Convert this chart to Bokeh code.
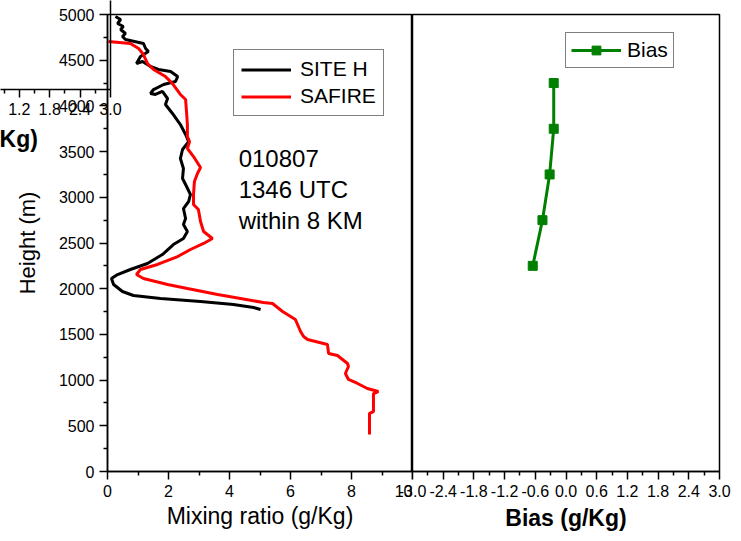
from bokeh.plotting import figure
from bokeh.layouts import row
from bokeh.models import (FixedTicker, CustomJSTickFormatter, Label, Range1d, Title)
from bokeh.embed import file_html
from bokeh.resources import INLINE

# ---------------- data ----------------
site_h_mr = [0.26, 0.43, 0.33, 0.52, 0.43, 0.59, 0.49, 0.59, 1.18, 1.25, 1.34, 1.08, 0.95, 1.15,
             1.41, 1.67, 2.07, 2.30, 2.23, 1.84, 1.51, 1.41, 1.57, 1.80, 1.97, 1.90, 2.13, 2.39,
             2.56, 2.66, 2.46, 2.39, 2.49, 2.46, 2.56, 2.72, 2.66, 2.49, 2.56, 2.49, 2.62, 2.49,
             2.16, 1.80, 1.31, 0.75, 0.33, 0.13, 0.20, 0.49, 0.85, 1.74, 3.05, 4.13, 4.79, 5.02]
site_h_z = [4978, 4945, 4902, 4869, 4836, 4792, 4759, 4726, 4683, 4628, 4595, 4540, 4464, 4486,
            4431, 4398, 4376, 4321, 4267, 4234, 4179, 4136, 4125, 4158, 4081, 4015, 3917, 3796,
            3687, 3610, 3523, 3424, 3315, 3206, 3140, 3031, 2954, 2877, 2768, 2702, 2626, 2549,
            2483, 2374, 2276, 2210, 2155, 2112, 2046, 1969, 1926, 1893, 1860, 1827, 1794, 1772]

safire_mr = [0.03, 0.75, 1.02, 1.18, 1.31, 1.51, 1.90, 2.13, 2.39, 2.56, 2.59, 2.62, 2.62, 2.69,
             2.62, 2.82, 3.05, 2.95, 2.85, 2.82, 2.82, 2.98, 3.05, 3.15, 3.44, 3.15, 2.72, 2.30,
             1.64, 1.08, 0.95, 1.18, 1.97, 2.62, 3.61, 4.36, 5.11, 5.41, 5.74, 6.16, 6.33, 6.43,
             6.56, 7.21, 7.25, 7.54, 7.87, 7.90, 7.80, 7.90, 8.20, 8.52, 8.88, 8.72, 8.72, 8.59,
             8.59]
safire_z = [4705, 4683, 4628, 4562, 4464, 4398, 4321, 4245, 4125, 4070, 3939, 3796, 3665, 3610,
            3534, 3446, 3326, 3260, 3173, 3031, 2921, 2866, 2735, 2626, 2549, 2495, 2429, 2352,
            2265, 2210, 2155, 2112, 2046, 2002, 1937, 1893, 1849, 1838, 1751, 1663, 1532, 1477,
            1444, 1389, 1291, 1269, 1182, 1149, 1072, 1007, 963, 908, 875, 853, 656, 635,
            405]

bias_z = [2250, 2750, 3250, 3750, 4250]
bias_val = [-0.65, -0.46, -0.32, -0.24, -0.24]

height_ticks = list(range(0, 5001, 500))
height_minor = list(range(250, 5000, 500))
mr_ticks = [0, 2, 4, 6, 8, 10]
mr_minor = [1, 3, 5, 7, 9]
bias_ticks = [-3.0, -2.4, -1.8, -1.2, -0.6, 0.0, 0.6, 1.2, 1.8, 2.4, 3.0]
bias_minor = [-2.7, -2.1, -1.5, -0.9, -0.3, 0.3, 0.9, 1.5, 2.1, 2.7]
annot_lines = ["010807", "1346 UTC", "within 8 KM"]

FONT = "Liberation Sans"
H = 540
OVER = 30  # right panel canvas reaches this far back over the left panel (transparent)

def style_axis(ax, size="16px"):
    ax.axis_line_color = "black"
    ax.axis_line_width = 1.5
    ax.major_tick_line_color = "black"
    ax.major_tick_line_width = 1.5
    ax.minor_tick_line_color = "black"
    ax.minor_tick_line_width = 1.5
    ax.major_tick_in = 0
    ax.major_tick_out = 8
    ax.minor_tick_in = 0
    ax.minor_tick_out = 4
    ax.major_label_text_font = FONT
    ax.major_label_text_font_size = size
    ax.major_label_text_color = "black"
    ax.axis_label_text_font = FONT
    ax.axis_label_text_font_style = "normal"
    ax.axis_label_text_color = "black"

# ---------------- left panel ----------------
p = figure(width=412, height=H, output_backend="svg", toolbar_location=None,
           x_range=Range1d(0, 10), y_range=Range1d(0, 5000),
           min_border_left=107, min_border_right=0, min_border_top=14, min_border_bottom=H - 471)
p.grid.visible = False
p.outline_line_color = "black"
p.outline_line_width = 1.5
p.background_fill_color = "white"
p.border_fill_color = "white"

p.line(site_h_mr, site_h_z, line_color="black", line_width=3, legend_label="SITE H")
p.line(safire_mr, safire_z, line_color="red", line_width=3, legend_label="SAFIRE")

p.xaxis.ticker = FixedTicker(ticks=mr_ticks, minor_ticks=mr_minor)
p.yaxis.ticker = FixedTicker(ticks=height_ticks, minor_ticks=height_minor)
style_axis(p.xaxis[0])
style_axis(p.yaxis[0])
p.xaxis.axis_label = "Mixing ratio (g/Kg)"
p.yaxis.axis_label = "Height (m)"
p.xaxis.axis_label_text_font_size = "23px"
p.yaxis.axis_label_text_font_size = "22px"
p.xaxis.major_label_standoff = 5
p.xaxis.axis_label_standoff = 3
p.yaxis.major_label_standoff = 5
p.yaxis.axis_label_standoff = 16

lg = p.legend[0]
lg.location = (126, 355)
lg.label_text_font = FONT
lg.label_text_font_size = "21px"
lg.label_text_color = "black"
lg.border_line_color = "black"
lg.border_line_width = 1
lg.padding = 7
lg.spacing = 3
lg.margin = 0
lg.glyph_width = 50
lg.glyph_height = 23
lg.label_standoff = 9
lg.label_height = 23

for i, t in enumerate(annot_lines):
    p.add_layout(Label(x=4.3, y=3424 - i * 340, text=t, text_font=FONT, text_font_size="24px",
                       text_baseline="middle", text_color="black"))

# ---------------- right panel ----------------
p2 = figure(width=741 - 412 + OVER, height=H, output_backend="svg", toolbar_location=None,
            x_range=Range1d(-3, 3), y_range=Range1d(0, 5000), y_axis_location=None,
            margin=(0, 0, 0, -OVER),
            min_border_left=OVER, min_border_right=741 - 719, min_border_top=14,
            min_border_bottom=H - 471)
p2.grid.visible = False
p2.outline_line_color = "black"
p2.outline_line_width = 1.5
p2.border_fill_alpha = 0
p2.background_fill_color = "white"

p2.line(bias_val, bias_z, line_color="green", line_width=3, legend_label="Bias")
p2.scatter(bias_val, bias_z, marker="square", size=9, fill_color="green", line_color="green",
           legend_label="Bias")

p2.xaxis.ticker = FixedTicker(ticks=bias_ticks, minor_ticks=bias_minor)
p2.xaxis.formatter = CustomJSTickFormatter(code="return tick.toFixed(1);")
style_axis(p2.xaxis[0])
p2.xaxis.axis_label = "Bias (g/Kg)"
p2.xaxis.axis_label_text_font_size = "23px"
p2.xaxis.axis_label_text_font_style = "bold"
p2.xaxis.major_label_standoff = 5
p2.xaxis.axis_label_standoff = 5

lg2 = p2.legend[0]
lg2.location = (153, 403)
lg2.label_text_font = FONT
lg2.label_text_font_size = "21px"
lg2.label_text_color = "black"
lg2.border_line_color = "black"
lg2.border_line_width = 1
lg2.padding = 5
lg2.margin = 0
lg2.glyph_width = 50
lg2.glyph_height = 22
lg2.label_standoff = 6
lg2.label_height = 22

# ---------------- fragment of a neighbouring bias panel (overlapping at top-left) ----------------
g = figure(width=140, height=160, output_backend="svg", toolbar_location=None,
           x_range=Range1d(3.0 - 110 / 50.67, 3.0), y_range=Range1d(0, 1),
           y_axis_location="right", margin=(-H, 0, 0, 0),
           min_border_left=0, min_border_right=30, min_border_top=0, min_border_bottom=160 - 89)
g.grid.visible = False
g.outline_line_color = None
g.background_fill_alpha = 0
g.border_fill_alpha = 0
g.xaxis.ticker = FixedTicker(ticks=bias_ticks, minor_ticks=bias_minor)
g.xaxis.formatter = CustomJSTickFormatter(code="return tick.toFixed(1);")
style_axis(g.xaxis[0])
g.xaxis.major_label_standoff = 5
g.yaxis.ticker = FixedTicker(ticks=[])
g.yaxis.axis_line_color = "black"
g.yaxis.axis_line_width = 1.5
g.yaxis.major_tick_line_color = None
g.yaxis.minor_tick_line_color = None
g.yaxis.major_label_text_font_size = "0px"
g.add_layout(Title(text="Bias (g/Kg)", align="left", offset=-84, standoff=13,
                   text_font=FONT, text_font_size="23px", text_font_style="bold",
                   text_color="black"), "below")

layout = row(p, p2, spacing=0)
open("out.html", "w").write(file_html([layout, g], INLINE))
